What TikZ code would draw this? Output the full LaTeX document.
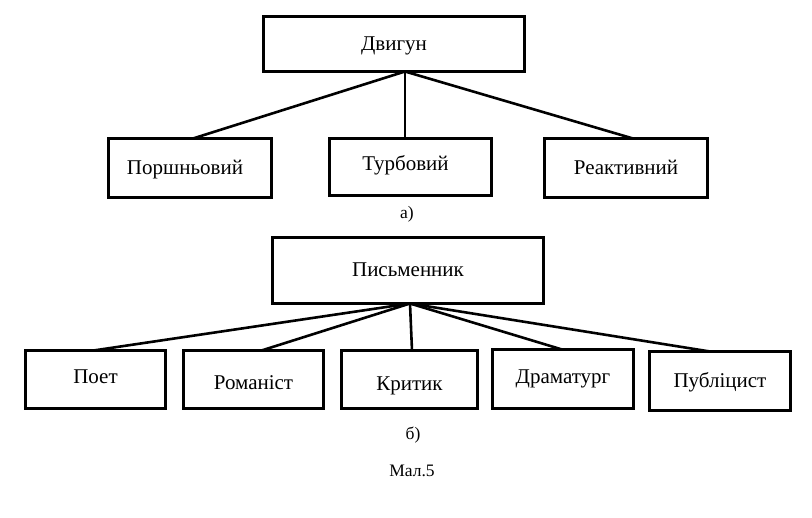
\documentclass[tikz,border=0pt]{standalone}
\usepackage{fontspec}
\setmainfont{Liberation Serif}
\colorlet{BoxLine}{black}
\tikzset{
  schemebox/.style={draw=BoxLine, line width=2.8pt, inner sep=0pt, outer sep=0pt,
    text height=15pt, text depth=2pt, font=\fontsize{21}{25}\selectfont},
  branch/.style={line width=2.6pt},
  caption/.style={font=\fontsize{17.5}{21}\selectfont}
}

\begin{document}
\begin{tikzpicture}[x=1pt, y=-1pt]

\useasboundingbox (0,0) rectangle (812,518);

% a) engine
\node [schemebox, minimum width=261pt, minimum height=55pt] (dvygun) at (394,44) {Двигун};
\node [schemebox, minimum width=163pt, minimum height=59pt] (porshn) at (190,168) {\hspace*{-10pt}Поршньовий};
\node [schemebox, minimum width=162pt, minimum height=57pt] (turbo) at (410.5,167) {\raisebox{3pt}{Турбовий}\hspace*{10pt}};
\node [schemebox, minimum width=163pt, minimum height=59pt] (reakt) at (626,168) {Реактивний};
\node [caption] (capA) at (407,214) {а)};

\coordinate (topA) at ([xshift=11pt]dvygun.south);
\draw [branch] (topA) -- ([xshift=3pt]porshn.north);
\draw [branch] (topA) -- (topA |- turbo.north);
\draw [branch] (topA) -- ([xshift=7pt]reakt.north);

% b) writer
\node [schemebox, minimum width=271pt, minimum height=66pt] (pysm) at (408,270.5) {Письменник};
\node [schemebox, minimum width=140pt, minimum height=58pt] (poet) at (95.5,379.5) {\raisebox{2pt}{Поет}};
\node [schemebox, minimum width=140pt, minimum height=58pt] (roman) at (253.5,379.5) {\raisebox{-4pt}{Романіст}};
\node [schemebox, minimum width=136pt, minimum height=58pt] (kryt) at (409.5,379.5) {\raisebox{-5pt}{Критик}};
\node [schemebox, minimum width=141pt, minimum height=59pt] (dram) at (563,379) {\raisebox{2pt}{Драматург}};
\node [schemebox, minimum width=141pt, minimum height=59pt] (publ) at (720,381) {Публіцист};
\node [caption] (capB) at (413,435) {б)};
\node [caption] (mal) at (412,471) {Мал.5};

\coordinate (topB) at ([xshift=2pt]pysm.south);
\draw [branch] (topB) -- ([xshift=-2pt]poet.north);
\draw [branch] (topB) -- ([xshift=8pt]roman.north);
\draw [branch] (topB) -- ([xshift=2.5pt]kryt.north);
\draw [branch] (topB) -- ([xshift=-1pt]dram.north);
\draw [branch] (topB) -- ([xshift=-10pt]publ.north);

\end{tikzpicture}
\end{document}
